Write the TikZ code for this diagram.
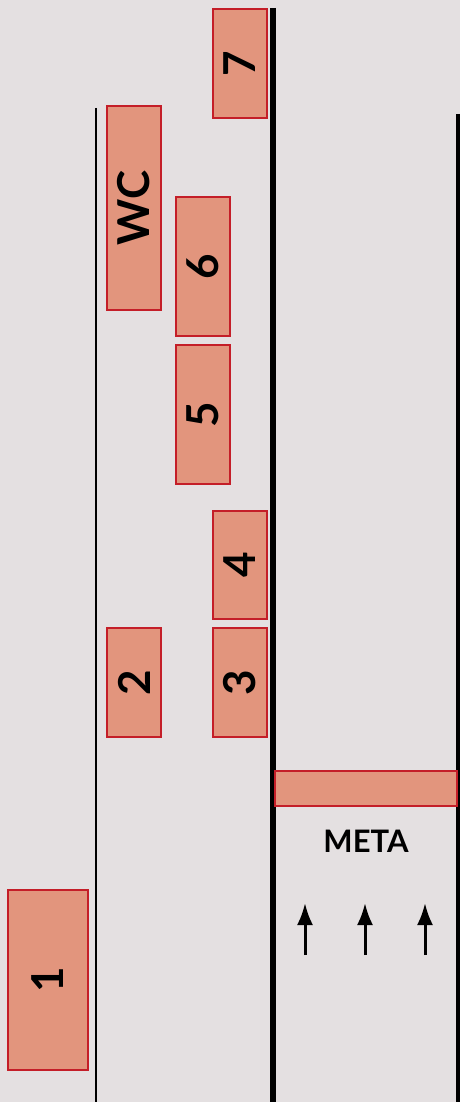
\documentclass[tikz,border=0pt]{standalone}
\usepackage{fontspec}
\setmainfont{Lato}
\usetikzlibrary{arrows.meta}
\definecolor{bgcol}{HTML}{E4E0E1}
\definecolor{boxfill}{HTML}{E2957D}
\definecolor{boxline}{HTML}{C41E28}
\tikzset{
  room/.style={draw=boxline,fill=boxfill,line width=2.2pt,inner sep=0pt,rotate=90,
    font=\fontsize{44}{44}\selectfont\bfseries},
  wall/.style={line width=#1,black},
  up/.style={line width=3pt,-{Latex[length=22pt,width=16pt]}}
}
\begin{document}
\begin{tikzpicture}[x=1pt,y=-1pt]
\fill[bgcol] (0,0) rectangle (460,1102);
\useasboundingbox (0,0) rectangle (460,1102);
\draw [wall=2pt] (96,108) -- (96,1102);
\draw [wall=6pt] (272.5,8) -- (272.5,1102);
\draw [wall=4pt] (458,114) -- (458,1102);
\node [room,minimum width=109pt,minimum height=54pt] (s7) at (240,63.5) {7};
\node [room,minimum width=204pt,minimum height=54pt] (wc) at (134,208) {WC};
\node [room,minimum width=139pt,minimum height=54pt] (s6) at (203,266.5) {6};
\node [room,minimum width=139pt,minimum height=54pt] (s5) at (203,414.5) {5};
\node [room,minimum width=108pt,minimum height=54pt] (s4) at (240,565) {4};
\node [room,minimum width=109pt,minimum height=54pt] (s3) at (240,682.5) {3};
\node [room,minimum width=109pt,minimum height=54pt] (s2) at (134,682.5) {2};
\node [room,minimum width=180pt,minimum height=80pt] (s1) at (48,980) {1};
\node [draw=boxline,fill=boxfill,line width=2pt,inner sep=0pt,
  minimum width=182pt,minimum height=35pt] (metabar) at (366,788.5) {};
\node [font=\fontsize{31}{31}\selectfont\bfseries] (meta) at (366,841) {META};
\foreach \x [count=\i] in {305,365,425} {
  \coordinate (tail\i) at (\x,955);
  \coordinate (head\i) at (\x,903);
  \draw [up] (tail\i) -- (head\i);
}
\end{tikzpicture}
\end{document}
